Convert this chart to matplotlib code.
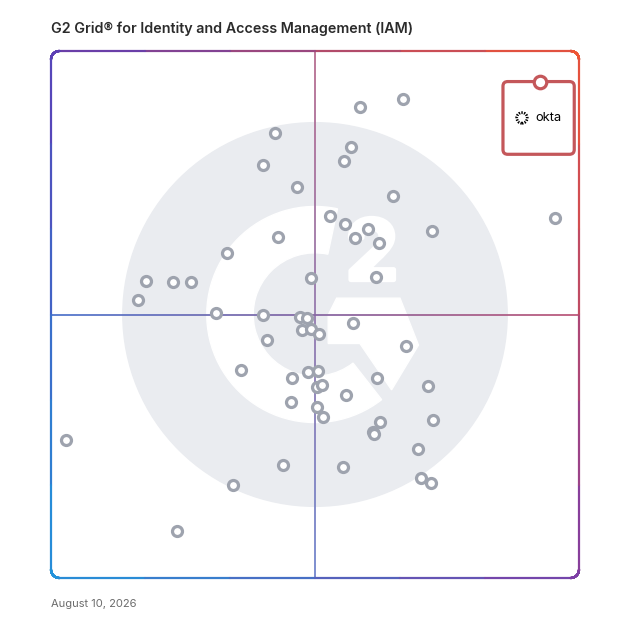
import numpy as np
import matplotlib
matplotlib.use('Agg')
import matplotlib.pyplot as plt
import matplotlib.patheffects as pe
from matplotlib.patches import Circle, Wedge, Polygon, FancyBboxPatch
from matplotlib.collections import LineCollection

plt.rcParams['font.family'] = ['Inter', 'DejaVu Sans']

title = 'G2 Grid\u00ae for Identity and Access Management (IAM)'
date_text = 'August 10, 2026'

# market presence (x) and satisfaction (y), 0-100
market_presence = [42.4, 56.8, 55.5, 40.2, 46.6, 64.8, 52.8, 55.7, 60.0, 57.6,
                   72.2, 43.0, 62.1, 33.3, 49.2, 61.6, 18.0, 23.1, 26.5, 16.5,
                   31.3, 40.2, 47.2, 48.5, 47.5, 49.2, 50.8, 57.2, 40.9, 67.2,
                   36.0, 48.7, 50.6, 45.6, 61.7, 50.4, 51.3, 71.4, 55.9, 45.5,
                   50.4, 51.5, 62.3, 72.3, 61.0, 61.2, 69.5, 43.9, 55.3, 70.1,
                   72.0, 34.5, 58.5, 66.7, 95.4, 2.8, 23.9]
satisfaction = [84.4, 81.8, 79.1, 78.4, 74.2, 72.5, 68.7, 67.2, 66.2, 64.5,
                65.8, 64.7, 63.6, 61.7, 56.9, 57.1, 56.4, 56.2, 56.2, 52.8,
                50.3, 49.9, 49.5, 49.3, 47.1, 47.2, 46.3, 48.4, 45.2, 44.0,
                39.5, 39.1, 39.3, 38.0, 38.0, 36.2, 36.6, 36.4, 34.7, 33.4,
                32.4, 30.6, 29.6, 30.0, 27.7, 27.3, 24.5, 21.4, 21.1, 19.0,
                18.0, 17.6, 89.4, 90.9, 68.3, 26.2, 8.9]

leader_name = 'okta'
leader_x = 92.6
leader_y = 94.1

# corner colours of the frame gradient
c_tl = np.array([0.36, 0.24, 0.71])
c_tr = np.array([0.94, 0.33, 0.20])
c_bl = np.array([0.13, 0.58, 0.86])
c_br = np.array([0.49, 0.24, 0.65])


def grad_color(x, y):
    u = x / 100.0
    v = y / 100.0
    top = c_tl * (1 - u) + c_tr * u
    bot = c_bl * (1 - u) + c_br * u
    return np.clip(bot * (1 - v) + top * v, 0, 1)


def rounded_rect(x0, y0, x1, y1, r, n=40):
    pts = []
    corners = [(x1 - r, y1 - r, 0), (x0 + r, y1 - r, 90),
               (x0 + r, y0 + r, 180), (x1 - r, y0 + r, 270)]
    for cx, cy, a0 in corners:
        t = np.radians(np.linspace(a0, a0 + 90, n))
        pts += list(zip(cx + r * np.cos(t), cy + r * np.sin(t)))
    pts.append(pts[0])
    return np.array(pts)


def colored_line(ax, pts, lw, lighten=0.0, n=6, cap='round'):
    segs = []
    cols = []
    for i in range(len(pts) - 1):
        p0, p1 = pts[i], pts[i + 1]
        for k in range(n):
            a = p0 + (p1 - p0) * k / n
            b = p0 + (p1 - p0) * (k + 1) / n
            segs.append([a, b])
            m = (a + b) / 2
            c = grad_color(m[0], m[1])
            cols.append(c * (1 - lighten) + lighten)
    lc = LineCollection(segs, colors=cols, linewidths=lw, capstyle=cap, clip_on=False)
    ax.add_collection(lc)


fig = plt.figure(figsize=(6.28, 6.28), dpi=100)
ax = fig.add_axes([51 / 628, 50 / 628, 528 / 628, 527 / 628])
ax.set_xlim(0, 100)
ax.set_ylim(0, 100)
ax.axis('off')

# background G2 watermark
ax.add_patch(Circle((50, 50), 36.4, color='#eaecf0', zorder=0))
ax.add_patch(Wedge((50, 50), 20.5, 78, 308, width=8.8, color='white', zorder=1))
ax.add_patch(Polygon([(54.1, 53.1), (66.1, 53.1), (69.6, 44.2), (64.5, 35.7),
                      (58.5, 44.5), (52.5, 44.5), (52.5, 49.9)],
                     closed=True, color='white', zorder=1))
ax.text(60.8, 56.6, '2', color='white', fontsize=60, fontweight='bold',
        ha='center', va='baseline', zorder=1,
        path_effects=[pe.withStroke(linewidth=3.5, foreground='white')])

# quadrant lines
colored_line(ax, np.array([[50.0, 0.0], [50.0, 100.0]]), 1.3, lighten=0.2, n=80, cap='butt')
colored_line(ax, np.array([[0.0, 50.0], [100.0, 50.0]]), 1.3, lighten=0.1, n=80, cap='butt')

# frame
colored_line(ax, rounded_rect(0, 0, 100, 100, 1.6), 1.6)

# products
ax.plot(market_presence, satisfaction, 'o', ms=7.2, mfc='white', mec='#9ea3ae',
        mew=2.3, zorder=5, clip_on=False)

# leader highlight box
red = '#c4575a'
box = FancyBboxPatch((85.6, 80.4), 13.5, 13.8, boxstyle='round,pad=0,rounding_size=0.9',
                     fc='white', ec=red, lw=2.3, zorder=6)
ax.add_patch(box)
ax.plot([leader_x], [leader_y], 'o', ms=9, mfc='white', mec=red, mew=2.3, zorder=7)
ax.add_patch(Circle((89.2, 87.3), 1.0, fc='none', ec='black', lw=2.0,
                    linestyle=(0, (0.5, 0.45)), zorder=7))
ax.text(91.7, 87.3, leader_name, fontsize=9.3, color='black', ha='left', va='center', zorder=7)

fig.text(51 / 628, 1 - 29 / 628, title, fontsize=10.3, fontweight='semibold',
         color='#2b2b2b', ha='left', va='center')
fig.text(51 / 628, 1 - 604 / 628, date_text, fontsize=8, color='#6b6b6b',
         ha='left', va='center')

fig.savefig('out.png', dpi=100, facecolor='white')
